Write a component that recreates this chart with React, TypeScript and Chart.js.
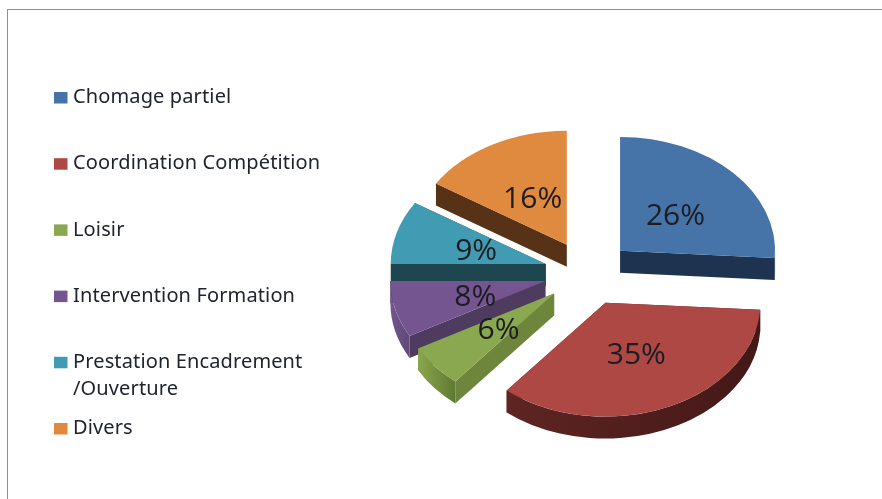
import React, { useEffect, useRef } from "react";
import { Chart, registerables } from "chart.js";

Chart.register(...registerables);

const categories = [
  "Chomage partiel",
  "Coordination Compétition",
  "Loisir",
  "Intervention Formation",
  ["Prestation Encadrement", "/Ouverture"],
  "Divers",
];
const shares = [26, 35, 6, 8, 9, 16];
const topColors = ["#4674a9", "#ad4844", "#8aa84f", "#745590", "#419cb3", "#e08a3f"];
const radialColors = ["#1e3350", "#4b1c1a", "#6e853c", "#4f3b60", "#1d4651", "#573216"];
const outerColorsA = ["#1e3350", "#5e2522", "#8aa64d", "#755691", "#1d4651", "#573216"];
const outerColorsB = ["#1e3350", "#431817", "#5f7a33", "#5f4878", "#1d4651", "#573216"];
const paintOrder = [5, 4, 3, 0, 2, 1];

const TILT = 0.735;
const DEPTH = 22;
const EXPLODE = 44;
const LABEL_RADIUS = 74;
const LEGEND_FONT = '20px "Noto Sans"';
const VALUE_FONT = '30px "Open Sans"';

const pie3d = {
  id: "pie3d",
  beforeDatasetDraw(chart: any) {
    const ctx = chart.ctx;
    const arcs = chart.getDatasetMeta(0).data;
    for (const i of paintOrder) {
      const arc = arcs[i];
      const { x, y, startAngle: a1, endAngle: a2, outerRadius: r } = arc;
      const mid = (a1 + a2) / 2;
      const ax = x + Math.cos(mid) * EXPLODE;
      const ay = y + Math.sin(mid) * EXPLODE * TILT;
      for (const a of [a1, a2]) {
        const px = ax + Math.cos(a) * r;
        const py = ay + Math.sin(a) * r * TILT;
        ctx.beginPath();
        ctx.moveTo(ax, ay);
        ctx.lineTo(px, py);
        ctx.lineTo(px, py + DEPTH);
        ctx.lineTo(ax, ay + DEPTH);
        ctx.closePath();
        ctx.fillStyle = radialColors[i];
        ctx.fill();
      }
      const s = Math.max(a1, 0);
      const e = Math.min(a2, Math.PI);
      if (e > s) {
        const gx1 = ax + Math.cos(e) * r;
        const gx2 = ax + Math.cos(s) * r;
        const grad = ctx.createLinearGradient(gx1, 0, gx2 + 0.01, 0);
        grad.addColorStop(0, outerColorsA[i]);
        grad.addColorStop(1, outerColorsB[i]);
        ctx.beginPath();
        ctx.ellipse(ax, ay, r, r * TILT, 0, s, e);
        ctx.ellipse(ax, ay + DEPTH, r, r * TILT, 0, e, s, true);
        ctx.closePath();
        ctx.fillStyle = grad;
        ctx.fill();
      }
      ctx.save();
      ctx.translate(ax, ay);
      ctx.scale(1, TILT);
      ctx.translate(-x, -y);
      arc.draw(ctx);
      ctx.restore();
    }
    return false;
  },
  afterDatasetsDraw(chart: any) {
    const ctx = chart.ctx;
    const arcs = chart.getDatasetMeta(0).data;
    const total = shares.reduce((p, c) => p + c, 0);
    ctx.save();
    ctx.font = VALUE_FONT;
    ctx.textAlign = "center";
    ctx.textBaseline = "middle";
    ctx.fillStyle = "#1c1c22";
    arcs.forEach((arc: any, i: number) => {
      const mid = (arc.startAngle + arc.endAngle) / 2;
      const d = EXPLODE + LABEL_RADIUS;
      const lx = arc.x + Math.cos(mid) * d + 1.5;
      const ly = arc.y + Math.sin(mid) * d * TILT + 2.5;
      ctx.fillText(Math.round((shares[i] / total) * 100) + "%", lx, ly);
    });
    ctx.restore();
  },
  afterDraw(chart: any) {
    const ctx = chart.ctx;
    ctx.save();
    ctx.font = LEGEND_FONT;
    (ctx as any).letterSpacing = "0.13px";
    ctx.textAlign = "left";
    ctx.textBaseline = "middle";
    categories.forEach((label, i) => {
      const rowY = 97.4 + 66.2 * i;
      ctx.fillStyle = topColors[i];
      ctx.fillRect(54, rowY - 5.4, 13.5, 11.5);
      ctx.fillStyle = "#20242c";
      const lines = Array.isArray(label) ? label : [label];
      lines.forEach((t, k) => ctx.fillText(t, 73, rowY + k * 27));
    });
    ctx.restore();
  },
};

export default function App() {
  const ref = useRef<HTMLCanvasElement>(null);
  useEffect(() => {
    const chart = new Chart(ref.current!, {
      type: "pie",
      data: {
        labels: categories as any,
        datasets: [
          {
            data: shares,
            backgroundColor: topColors,
            borderWidth: 0,
            radius: 155,
          } as any,
        ],
      },
      options: {
        responsive: false,
        animation: false,
        layout: { padding: { left: 294, top: 47, right: 0, bottom: 0 } },
        plugins: { legend: { display: false }, tooltip: { enabled: false } },
      },
      plugins: [pie3d],
    } as any);
    return () => chart.destroy();
  }, []);
  return (
    <div style={{ position: "fixed", left: 0, top: 0, width: 882, height: 499, background: "#fff", overflow: "hidden" }}>
      <canvas ref={ref} width={882} height={499} style={{ display: "block", filter: "blur(0.45px)" }} />
      <div style={{ position: "absolute", left: 7, top: 9, right: 0, bottom: 0, borderLeft: "1.5px solid #8e8e8e", borderTop: "1.5px solid #8e8e8e" }} />
    </div>
  );
}
